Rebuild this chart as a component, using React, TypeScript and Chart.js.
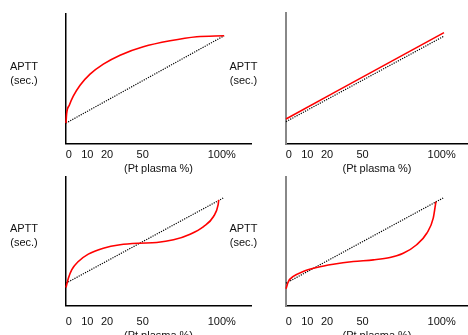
import React, { useEffect, useRef } from 'react';
import { Chart, registerables } from 'chart.js';

Chart.register(...registerables);

// ---- tick labels / titles ----
const xTickValues = [1.7, 13.5, 26, 48.5, 98.5];
const xTickLabels = ['0', '10', '20', '50', '100%'];
const xTitle = '(Pt plasma %)';
const yTitleLines = ['APTT', '(sec.)'];

// ---- reference (dotted) straight line x ends ----
const refX = [0, 100];

// Panel A (top-left)
const refAY = [15.8, 82.8];
const curveAX = [0, 0.4, 2.1, 4.6, 8.9, 15.2, 23.6, 34.2, 48.9, 65.8, 82.7, 100];
const curveAY = [15.8, 23, 29.5, 36.4, 44.8, 53.3, 61, 67.9, 74.3, 78.9, 82, 82.8];

// Panel B (top-right)
const refBY = [16.9, 82.5];
const curveBX = [0, 100];
const curveBY = [19, 85.2];

// Panel C (bottom-left)
const refCY = [17.3, 83.7];
const curveCX = [0, 1.5, 3.6, 7.8, 14.1, 23.6, 34.2, 45.8, 57.4, 68, 78.5, 87, 93.3, 96.2, 96.6];
const curveCY = [14, 21.2, 27.7, 34.1, 39.8, 44.4, 47.1, 48.3, 48.8, 50.9, 55.3, 61.2, 69, 78, 81.9];

// Panel D (bottom-right)
const refDY = [17.3, 83.7];
const curveDX = [0, 1.5, 4.6, 10.9, 19.4, 29.9, 42.6, 55.3, 65.8, 74.2, 82.7, 89.1, 93.2, 94.9];
const curveDY = [12.9, 18.6, 22.5, 26.4, 29.5, 32.0, 34.1, 35.4, 37.2, 40.5, 47.1, 56.0, 67.7, 80.6];

const FONT = '"Liberation Sans", Arial, Helvetica, sans-serif';
const TEXT = '#111';

type PanelProps = {
  left: number; top: number; width: number; height: number;
  padLeft: number; padRight: number; padTop: number;
  xMax: number; tickPad: number; titleTop: number; titleBottom: number;
  yAxisColor: string; yAxisWidth: number;
  curveX: number[]; curveY: number[]; refY: number[];
  yTitleX: number; yTitleY: number[];
};

function Panel(p: PanelProps) {
  const ref = useRef<HTMLCanvasElement>(null);
  useEffect(() => {
    const yTitlePlugin = {
      id: 'yTitleText',
      afterDraw(chart: any) {
        const ctx = chart.ctx;
        ctx.save();
        ctx.font = `11px ${FONT}`;
        ctx.fillStyle = TEXT;
        ctx.textAlign = 'center';
        ctx.textBaseline = 'middle';
        yTitleLines.forEach((t, i) => ctx.fillText(t, p.yTitleX, p.yTitleY[i]));
        ctx.restore();
      },
    };
    const chart = new Chart(ref.current!, {
      type: 'line',
      data: {
        datasets: [
          {
            data: p.curveX.map((x, i) => ({ x, y: p.curveY[i] })),
            borderColor: '#ff0000',
            borderWidth: 1.6,
            pointRadius: 0,
            cubicInterpolationMode: 'monotone',
            clip: false,
            fill: false,
          } as any,
          {
            data: refX.map((x, i) => ({ x, y: p.refY[i] })),
            borderColor: '#000',
            borderWidth: 1.2,
            borderDash: [1.2, 1.2],
            pointRadius: 0,
            tension: 0,
            clip: false,
            fill: false,
          } as any,
        ],
      },
      options: {
        responsive: false,
        animation: false,
        devicePixelRatio: 1,
        layout: { padding: { left: p.padLeft, right: p.padRight, top: p.padTop, bottom: 0 } },
        plugins: { legend: { display: false }, tooltip: { enabled: false } },
        scales: {
          x: {
            type: 'linear',
            min: 0,
            max: p.xMax,
            grid: { display: false, drawTicks: false },
            border: { display: true, color: '#000', width: 1.5 },
            afterBuildTicks: (s: any) => {
              s.ticks = xTickValues.map((v) => ({ value: v }));
            },
            ticks: {
              autoSkip: false,
              maxRotation: 0,
              minRotation: 0,
              padding: p.tickPad,
              color: TEXT,
              font: { family: FONT, size: 11 },
              callback: (_v: any, i: number) => xTickLabels[i] ?? '',
            },
            title: {
              display: true,
              text: xTitle,
              color: TEXT,
              font: { family: FONT, size: 11 },
              padding: { top: p.titleTop, bottom: p.titleBottom },
            },
          },
          y: {
            type: 'linear',
            min: 0,
            max: 100,
            grid: { display: false, drawTicks: false },
            border: { display: true, color: p.yAxisColor, width: p.yAxisWidth },
            ticks: { display: false },
          },
        },
      } as any,
      plugins: [yTitlePlugin],
    });
    return () => chart.destroy();
  }, []);
  return (
    <canvas
      ref={ref}
      width={p.width}
      height={p.height}
      style={{ position: 'absolute', left: p.left, top: p.top, width: p.width, height: p.height }}
    />
  );
}

export default function App() {
  return (
    <div style={{ position: 'absolute', left: 0, top: 0, width: 468, height: 335, overflow: 'hidden', background: '#fff' }}>
      <Panel left={0} top={0} width={260} height={178} padLeft={66} padRight={9} padTop={13.3}
        xMax={117} tickPad={4.3} titleTop={-3.5} titleBottom={2.8}
        yAxisColor="#000" yAxisWidth={1.5}
        curveX={curveAX} curveY={curveAY} refY={refAY}
        yTitleX={24} yTitleY={[66.7, 81]} />
      <Panel left={220} top={0} width={248} height={178} padLeft={66} padRight={0} padTop={13.3}
        xMax={115.2} tickPad={4.3} titleTop={-3.5} titleBottom={2.8}
        yAxisColor="#888" yAxisWidth={2}
        curveX={curveBX} curveY={curveBY} refY={refBY}
        yTitleX={23.5} yTitleY={[66.7, 81]} />
      <Panel left={0} top={164} width={260} height={180} padLeft={66} padRight={9} padTop={12.5}
        xMax={117} tickPad={9.5} titleTop={-8} titleBottom={1.1}
        yAxisColor="#000" yAxisWidth={1.5}
        curveX={curveCX} curveY={curveCY} refY={refCY}
        yTitleX={24} yTitleY={[65.2, 78.7]} />
      <Panel left={220} top={164} width={248} height={180} padLeft={66} padRight={0} padTop={12.5}
        xMax={115.2} tickPad={9.5} titleTop={-8} titleBottom={1.1}
        yAxisColor="#888" yAxisWidth={2}
        curveX={curveDX} curveY={curveDY} refY={refDY}
        yTitleX={23.5} yTitleY={[65.2, 78.7]} />
    </div>
  );
}
